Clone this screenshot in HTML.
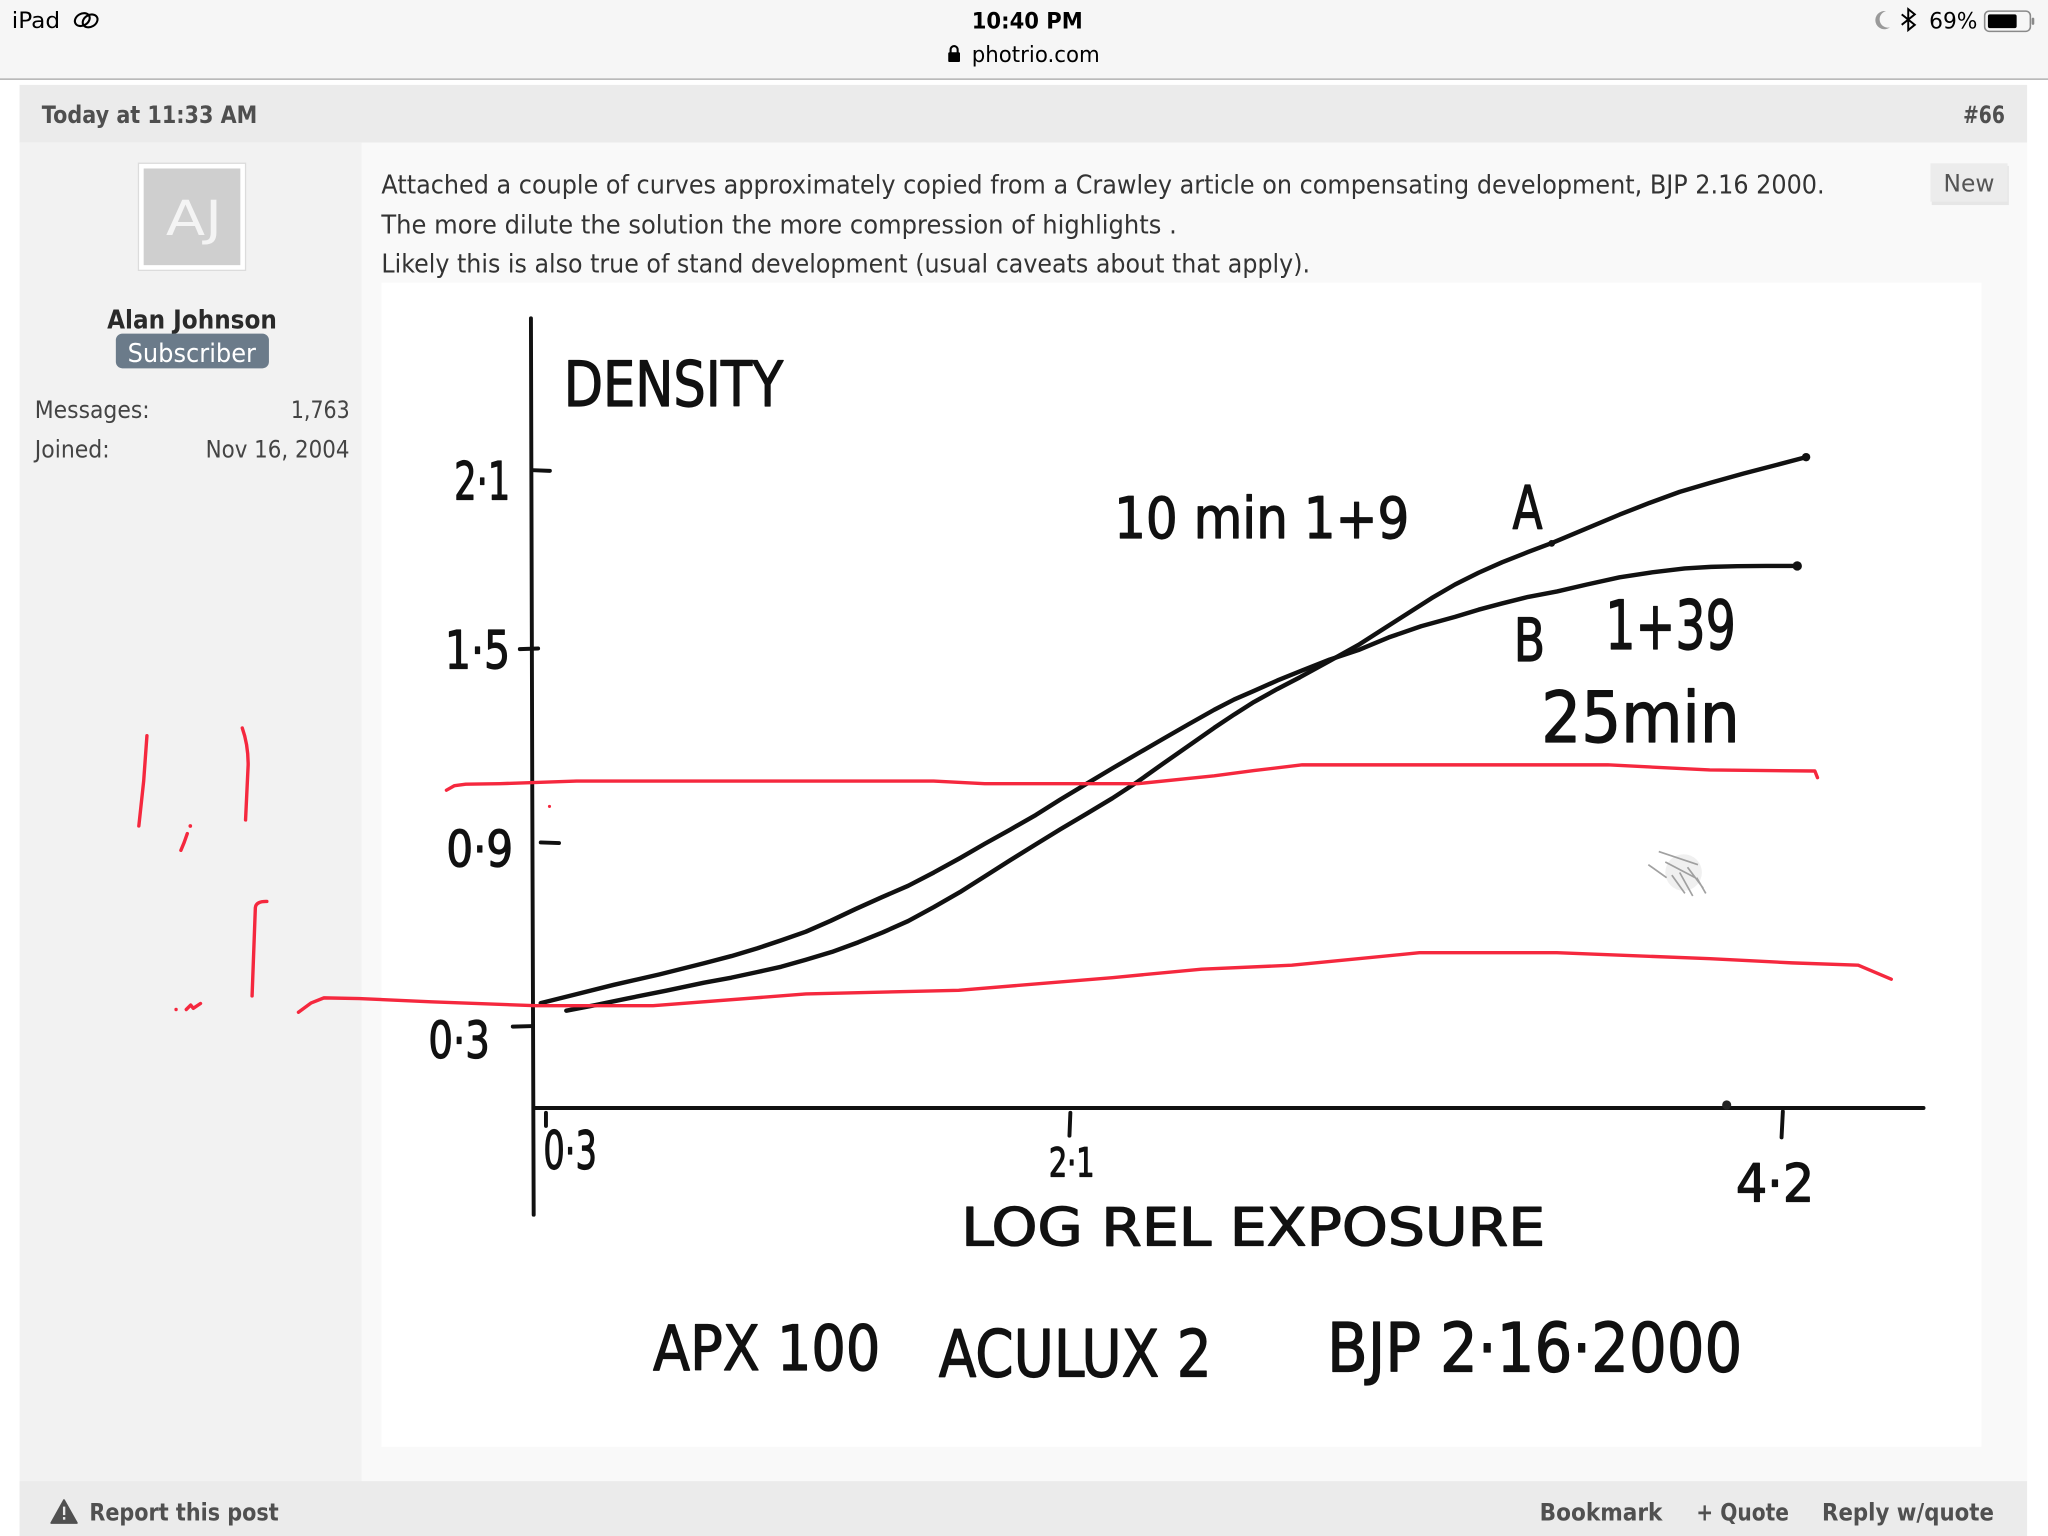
<!DOCTYPE html>
<html><head><meta charset="utf-8"><style>
html,body{margin:0;padding:0;background:#fff;overflow:hidden;width:2048px;height:1536px}
svg{display:block}
.ui{font-family:"DejaVu Sans","Liberation Sans",sans-serif}
.hw{font-family:"DejaVu Sans Condensed","DejaVu Sans","Liberation Sans",sans-serif;fill:#111;stroke:#111;stroke-width:0.9;stroke-linejoin:round}
</style></head><body>
<svg width="2048" height="1536" viewBox="0 0 1568 1176" xmlns="http://www.w3.org/2000/svg" preserveAspectRatio="none">
<rect x="0" y="0" width="1568" height="1176" fill="#ffffff"/>
<!-- status bar -->
<rect x="0" y="0" width="1568" height="60.5" fill="#f6f6f6"/>
<rect x="0" y="60" width="1568" height="1.2" fill="#b5b5b5"/>
<g class="ui" fill="#000">
<text x="9" y="21.5" font-size="17" textLength="37" lengthAdjust="spacingAndGlyphs">iPad</text>
<text x="744" y="22" font-size="17" font-weight="600" textLength="85" lengthAdjust="spacingAndGlyphs">10:40 PM</text>
<text x="744" y="47.5" font-size="17" textLength="98" lengthAdjust="spacingAndGlyphs">photrio.com</text>
<text x="1477" y="22" font-size="17" textLength="37" lengthAdjust="spacingAndGlyphs">69%</text>
</g>
<!-- ipad link icon -->
<g fill="none" stroke="#000" stroke-width="1.6">
<ellipse cx="63" cy="15" rx="6" ry="4.5" transform="rotate(-30 63 15)"/>
<ellipse cx="69" cy="16" rx="6" ry="4.5" transform="rotate(-30 69 16)"/>
</g>
<!-- lock -->
<rect x="726" y="40" width="9" height="7.5" rx="1" fill="#000"/>
<path d="M727.8,40.5 V38 a2.7,2.7 0 0 1 5.4,0 V40.5" fill="none" stroke="#000" stroke-width="1.6"/>
<!-- moon -->
<path d="M1444,8.5 a7,7 0 1 0 3,12.5 a6,6 0 0 1 -3,-12.5z" fill="#9a9a9a"/>
<!-- bluetooth -->
<path d="M1456,11 L1466,19 L1461,23 L1461,7 L1466,11 L1456,19" fill="none" stroke="#000" stroke-width="1.5"/>
<!-- battery -->
<rect x="1519.5" y="8.5" width="35" height="15.5" rx="3.5" fill="none" stroke="#8a8a8a" stroke-width="1.2"/>
<rect x="1522" y="11" width="22" height="10.5" rx="1.5" fill="#000"/>
<rect x="1555.5" y="13.5" width="2" height="5.5" rx="1" fill="#8a8a8a"/>

<!-- post header -->
<rect x="15" y="65" width="1537" height="44.2" fill="#ebebeb"/>
<g class="ui" fill="#4f4f4f" font-weight="bold">
<text x="32" y="94" font-size="18.5" textLength="165" lengthAdjust="spacingAndGlyphs">Today at 11:33 AM</text>
<text x="1503" y="94" font-size="18.5" textLength="32" lengthAdjust="spacingAndGlyphs">#66</text>
</g>
<!-- sidebar and content -->
<rect x="15" y="109.2" width="262" height="1025" fill="#f2f2f2"/>
<rect x="277" y="109.2" width="1275" height="1025" fill="#f9f9f9"/>
<!-- avatar -->
<rect x="106" y="125" width="82" height="82" fill="#ffffff" stroke="#dcdcdc" stroke-width="1"/>
<rect x="110" y="129" width="74" height="74" fill="#cfcfcf"/>
<text class="ui" x="127" y="180" font-size="37" fill="#f4f4f4" textLength="43" lengthAdjust="spacingAndGlyphs">AJ</text>
<text class="ui" x="82" y="251.5" font-size="19.5" font-weight="bold" fill="#2a2a2a" textLength="130" lengthAdjust="spacingAndGlyphs">Alan Johnson</text>
<rect x="88.7" y="255.4" width="117.2" height="26.6" rx="5" fill="#6b7b8a"/>
<text class="ui" x="97.7" y="277" font-size="19.5" fill="#ffffff" textLength="98.3" lengthAdjust="spacingAndGlyphs">Subscriber</text>
<g class="ui" fill="#444" font-size="18.5">
<text x="26.6" y="320" textLength="88" lengthAdjust="spacingAndGlyphs">Messages:</text>
<text x="222.7" y="320" textLength="45" lengthAdjust="spacingAndGlyphs">1,763</text>
<text x="26.6" y="350.4" textLength="57.4" lengthAdjust="spacingAndGlyphs">Joined:</text>
<text x="157.4" y="350.4" textLength="110.2" lengthAdjust="spacingAndGlyphs">Nov 16, 2004</text>
</g>
<!-- post text -->
<g class="ui" fill="#333" font-size="19.5">
<text x="292" y="148" textLength="1105" lengthAdjust="spacingAndGlyphs">Attached a couple of curves approximately copied from a Crawley article on compensating development, BJP 2.16 2000.</text>
<text x="292" y="178.6" textLength="609" lengthAdjust="spacingAndGlyphs">The more dilute the solution the more compression of highlights .</text>
<text x="292" y="208.5" textLength="711" lengthAdjust="spacingAndGlyphs">Likely this is also true of stand development (usual caveats about that apply).</text>
</g>
<!-- New button -->
<rect x="1479" y="127" width="59" height="30" fill="#d8d8d8" opacity="0.6"/>
<rect x="1478" y="125" width="59" height="29.4" fill="#ececec"/>
<text class="ui" x="1488" y="146.5" font-size="18.5" fill="#555" textLength="39" lengthAdjust="spacingAndGlyphs">New</text>

<!-- chart image -->
<rect x="292" y="216.4" width="1225" height="891.3" fill="#ffffff"/>
<!-- smudge -->
<g stroke="#555" stroke-width="1.3" opacity="0.55">
<path d="M1270,652 L1300,662 M1275,660 L1298,672 M1280,670 L1290,684 M1286,668 L1296,686 M1292,664 L1304,680 M1262,662 L1276,672 M1299,672 L1306,684"/>
</g>
<circle cx="1289" cy="668" r="14" fill="#999" opacity="0.15"/>
<!-- axes -->
<g stroke="#111" stroke-width="3" stroke-linecap="round" fill="none">
<path d="M406.5,243.7 L407.5,600 L408.6,930"/>
<path d="M410,848.3 L1472.7,848.3"/>
<path d="M408,360 L421,360.5"/>
<path d="M398,497 L412,496.5"/>
<path d="M414,645 L428,645.5"/>
<path d="M392.6,786 L408,785.6"/>
<path d="M819.5,852 L818.8,869.5"/>
<path d="M1365,851 L1364,870.8"/>
<path d="M418,852 L418,862"/>
</g>
<circle cx="1322" cy="846" r="3.5" fill="#222"/>
<!-- curves -->
<g fill="none" stroke="#111" stroke-width="3.4" stroke-linejoin="round" stroke-linecap="round">
<polyline points="414,768 440,761.5 470,754 505,746 539,737.5 560,732 580,726 598,720 617,713.3 636,705 655,696 675,687 695.3,678.2 715,668 735,657 754,646 773.4,635.2 793,624 812,612 832,600 851.6,588.3 871,577 890,566 910,554.5 929.7,543.4 945,535.5 960,529 978,521 997,513.3 1018,505 1040,497.7 1063.3,488 1088,479.5 1114,472.3 1132,466.8 1150,462 1170,457 1192.2,452.8 1215,447.5 1240,442 1265,438.2 1289.9,435.2 1310,434 1330,433.5 1352,433.3 1375.8,433.3"/>
<polyline points="433.6,773.8 456,769.5 480,764.5 510,758.5 539,752.4 560,748.5 580,744.2 598,740.2 617,734.8 637,728.8 657,721.5 676,713.8 695.3,705.2 715,694.5 735,683 754,671 773.4,658.6 793,646.5 812,634.8 832,623 851.6,611.2 871,598.5 890,585 910,571 929.7,557.2 945,547 960,537.5 978,527.5 995.3,518.5 1018,506 1040,493.8 1060,481 1078,469.5 1096,458 1114,447.5 1132,438.5 1150,430.5 1170,422.6 1188.3,415.7 1215,404.5 1240,394 1263,385 1286,376.6 1310,369.5 1335,362.5 1360,356 1382.8,350"/>
</g>
<circle cx="1382.8" cy="350" r="3.2" fill="#111"/>
<circle cx="1376" cy="433.3" r="3.6" fill="#111"/>
<circle cx="1188" cy="416" r="2.6" fill="#111"/>
<!-- handwritten labels -->
<g class="hw">
<text x="431.6" y="311" font-size="48" textLength="168" lengthAdjust="spacingAndGlyphs">DENSITY</text>
<text x="347.7" y="382.4" font-size="40" textLength="43" lengthAdjust="spacingAndGlyphs">2·1</text>
<text x="340.6" y="512" font-size="40" textLength="50" lengthAdjust="spacingAndGlyphs">1·5</text>
<text x="341.8" y="663.4" font-size="38" textLength="51" lengthAdjust="spacingAndGlyphs">0·9</text>
<text x="328" y="810" font-size="39" textLength="47" lengthAdjust="spacingAndGlyphs">0·3</text>
<text x="416" y="895" font-size="40" textLength="41" lengthAdjust="spacingAndGlyphs">0·3</text>
<text x="803" y="900.8" font-size="31" textLength="35" lengthAdjust="spacingAndGlyphs">2·1</text>
<text x="1329" y="920" font-size="40" textLength="60" lengthAdjust="spacingAndGlyphs">4·2</text>
<text x="736" y="953.5" font-size="40" textLength="447" lengthAdjust="spacingAndGlyphs">LOG  REL  EXPOSURE</text>
<text x="500" y="1049" font-size="48" textLength="174" lengthAdjust="spacingAndGlyphs">APX 100</text>
<text x="718.7" y="1054" font-size="50" textLength="209" lengthAdjust="spacingAndGlyphs">ACULUX 2</text>
<text x="1016" y="1050" font-size="52" textLength="318" lengthAdjust="spacingAndGlyphs">BJP 2·16·2000</text>
<text x="853" y="412" font-size="44" textLength="226" lengthAdjust="spacingAndGlyphs">10 min  1+9</text>
<text x="1158" y="404.7" font-size="46" textLength="23" lengthAdjust="spacingAndGlyphs">A</text>
<text x="1159" y="506" font-size="46" textLength="24" lengthAdjust="spacingAndGlyphs">B</text>
<text x="1229" y="497" font-size="52" textLength="100" lengthAdjust="spacingAndGlyphs">1+39</text>
<text x="1180" y="568" font-size="54" textLength="152" lengthAdjust="spacingAndGlyphs">25min</text>
</g>
<!-- red annotations -->
<g fill="none" stroke="#f5283e" stroke-width="2.6" stroke-linecap="round" stroke-linejoin="round">
<polyline points="341.8,605 348,601.5 356.6,600.4 382.8,600 441.4,598 600,598 714.8,598 753.9,600 871.1,600 929.7,594 960,590 997,585.6 1100,585.6 1231,585.6 1309,589.5 1389.5,590.3 1391.5,595.4"/>
<polyline points="228.5,775 238,768 248,764 275,764.5 330,767 410,770 500,770 617,761 734,758.2 851.6,748.5 920,742 989,739 1040,734 1086.8,729.4 1192,729.4 1309.4,734 1372,737.2 1422.7,739 1448,749.7"/>
<path d="M112.5,563.3 L110,598 L106.3,632.4"/>
<path d="M185.5,557.4 Q190,570 190,585.6 L188,627.8"/>
<path d="M143.4,638.2 L141,645 L138.5,651"/>
<path d="M204.3,690.2 Q196,690 195.5,695 L193,762.5"/>
<path d="M142.6,772.9 L146,769.5 L148,772 L153.5,768.3"/>
</g>
<g fill="#f5283e">
<circle cx="145.7" cy="632.4" r="1.4"/>
<circle cx="134.8" cy="772.9" r="1.3"/>
<circle cx="420.7" cy="617.4" r="1.2"/>
</g>

<!-- footer -->
<rect x="15" y="1134" width="1537" height="42" fill="#ebebeb"/>
<path d="M49,1148.6 L58.8,1166 L39.3,1166 Z" fill="#505050" stroke="#505050" stroke-width="1.5" stroke-linejoin="round"/>
<rect x="48.2" y="1153.5" width="1.8" height="6.5" fill="#ebebeb"/>
<rect x="48.2" y="1161.5" width="1.8" height="2" fill="#ebebeb"/>
<g class="ui" fill="#505050" font-weight="bold" font-size="18.5">
<text x="68.4" y="1164" textLength="145" lengthAdjust="spacingAndGlyphs">Report this post</text>
<text x="1178.8" y="1164" textLength="94" lengthAdjust="spacingAndGlyphs">Bookmark</text>
<text x="1298.7" y="1164" textLength="71" lengthAdjust="spacingAndGlyphs">+ Quote</text>
<text x="1395" y="1164" textLength="131.6" lengthAdjust="spacingAndGlyphs">Reply w/quote</text>
</g>
</svg>
</body></html>
